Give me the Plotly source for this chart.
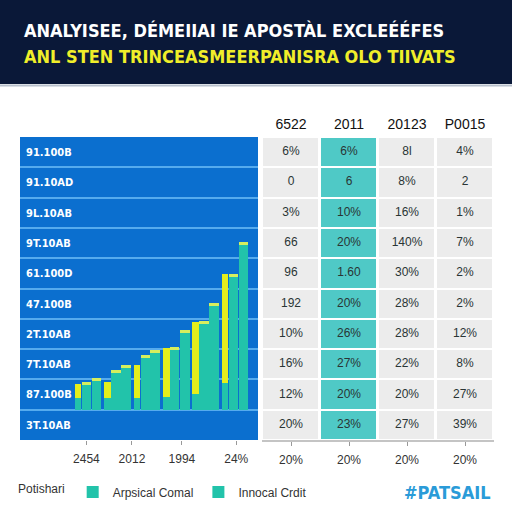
import plotly.graph_objects as go

# ---------------- data ----------------
title_text = "ANALYISEE, DÉMEIIAI IE APOSTÀL EXCLEÉÉFES"
subtitle_text = "ANL STEN TRINCEASMEERPANISRA OLO TIIVATS"

row_labels = ["91.100B", "91.10AD", "9L.10AB", "9T.10AB", "61.100D",
              "47.100B", "2T.10AB", "7T.10AB", "87.100B", "3T.10AB"]  # top -> bottom

groups = [0, 1, 2, 3, 4, 5]
yellow_vals = [2.6, 2.8, 4.5, 6.2, 8.8, 13.6]
yellow_base_teal = [1.2, 1.2, 1.2, 1.3, 1.6, 2.7]
teal_a_vals = [2.6, 3.8, 5.3, 6.1, 8.7, 13.4]
teal_b_vals = [3.0, 4.3, 5.8, 7.8, 10.5, 16.6]

bar_axis_labels = ["2454", "2012", "1994", "24%"]
table_axis_labels = ["20%", "20%", "20%", "20%"]

table_headers = ["6522", "2011", "20123", "P0015"]
table_rows = [
    ["6%", "6%", "8l", "4%"],
    ["0", "6", "8%", "2"],
    ["3%", "10%", "16%", "1%"],
    ["66", "20%", "140%", "7%"],
    ["96", "1.60", "30%", "2%"],
    ["192", "20%", "28%", "2%"],
    ["10%", "26%", "28%", "12%"],
    ["16%", "27%", "22%", "8%"],
    ["12%", "20%", "20%", "27%"],
    ["20%", "23%", "27%", "39%"],
]
highlight_col = 1

legend_title = "Potishari"
series_a_name = "Arpsical Comal"
series_b_name = "Innocal Crdit"
brand = "#PATSAIL"

# ---------------- style ----------------
W = H = 512
BLUE = "#0b6fcf"
GRID = "#55abee"
TEAL = "#22c3aa"
YELLOW = "#e4ee1c"
CAP = "#d6ee5e"
NAVY = "#0a1838"
CELL_GRAY = "#ececec"
CELL_TEAL = "#4fc9c6"
COND = "'DejaVu Sans Condensed', Roboto, sans-serif"
SANS = "'Liberation Sans', Arial, sans-serif"

def px_x(p):
    return p / W

def px_y(p):
    return 1 - p / H

left_dom = [px_x(20), px_x(258)]
table_dom = [px_x(262), px_x(494)]
row_dom = [px_y(440), px_y(137)]

y_lo, y_hi = -3.03, 27.27
n_rows = len(row_labels)
n_cols = len(table_headers)
row_h = (y_hi - y_lo) / n_rows
row_bounds = [y_lo + k * row_h for k in range(1, n_rows)]
row_centers = [y_hi - (i + 0.5) * row_h for i in range(n_rows)]

cap = 0.3

fig = go.Figure()

fig.add_trace(go.Bar(x=groups, y=yellow_vals, offset=-0.44, width=0.22,
                     marker=dict(color=YELLOW, line=dict(width=0)),
                     showlegend=False, hoverinfo="skip"))
fig.add_trace(go.Bar(x=groups, y=yellow_base_teal, offset=-0.44, width=0.22,
                     marker=dict(color=TEAL, line=dict(width=0)),
                     showlegend=False, hoverinfo="skip"))
fig.add_trace(go.Bar(x=groups, y=teal_a_vals, offset=-0.205, width=0.32,
                     name=series_a_name,
                     marker=dict(color=TEAL, line=dict(width=0))))
fig.add_trace(go.Bar(x=groups, y=teal_b_vals, offset=0.13, width=0.33,
                     name=series_b_name,
                     marker=dict(color=TEAL, line=dict(width=0))))
for vals, off, wd in [(teal_a_vals, -0.205, 0.32), (teal_b_vals, 0.13, 0.33)]:
    fig.add_trace(go.Bar(x=groups, y=[cap] * len(vals), base=[v - cap / 2 for v in vals],
                         offset=off, width=wd,
                         marker=dict(color=CAP, line=dict(width=0)),
                         showlegend=False, hoverinfo="skip"))

# table cells
z = [[1 if j == highlight_col else 0 for j in range(n_cols)] for _ in table_rows]
fig.add_trace(go.Heatmap(
    x=list(range(n_cols)), y=list(range(n_rows)), z=z,
    colorscale=[[0, CELL_GRAY], [1, CELL_TEAL]], zmin=0, zmax=1,
    showscale=False, xgap=3, ygap=2, hoverinfo="skip",
    xaxis="x2", yaxis="y2"))

# table texts
cell_x = [j for i in range(n_rows) for j in range(n_cols)]
cell_y = [i for i in range(n_rows) for j in range(n_cols)]
cell_t = [table_rows[i][j] for i in range(n_rows) for j in range(n_cols)]
fig.add_trace(go.Scatter(x=cell_x, y=cell_y, text=cell_t, mode="text",
                         textposition="middle center",
                         textfont=dict(family=SANS, size=12, color="#2a3535"),
                         showlegend=False, hoverinfo="skip",
                         xaxis="x3", yaxis="y2"))

fig.update_layout(
    width=W, height=H, autosize=False,
    margin=dict(l=0, r=0, t=0, b=0, autoexpand=False),
    paper_bgcolor="white", plot_bgcolor="rgba(0,0,0,0)",
    barmode="overlay", bargap=0,
    font=dict(family=SANS, color="#333"),
    xaxis=dict(domain=left_dom, range=[-2.31, 5.79], showgrid=False, zeroline=False,
               tickmode="array", tickvals=[-0.05, 1.5, 3.2, 5.05], ticktext=bar_axis_labels,
               ticks="outside", ticklen=4, tickcolor="#999", ticklabelstandoff=4,
               tickfont=dict(family=SANS, size=12, color="#333"), anchor="y",
               automargin=False),
    yaxis=dict(domain=row_dom, range=[y_lo, y_hi], showgrid=False, zeroline=False,
               tickmode="array", tickvals=row_centers, ticktext=row_labels,
               ticklabelposition="inside", ticks="", automargin=False,
               ticklabelstandoff=3,
               tickfont=dict(family=COND, size=11, color="white", weight="bold"),
               minor=dict(tickmode="array", tickvals=row_bounds,
                          showgrid=True, gridcolor=GRID, gridwidth=1.5, ticks=""),
               anchor="x"),
    xaxis2=dict(domain=table_dom, range=[-0.5, n_cols - 0.5], side="top", anchor="y2",
                tickmode="array", tickvals=list(range(n_cols)),
                ticktext=table_headers, ticks="", showgrid=False, zeroline=False,
                ticklabelstandoff=4, automargin=False,
                tickfont=dict(family=SANS, size=14, color="#111")),
    xaxis3=dict(overlaying="x2", range=[-0.5, n_cols - 0.5], side="bottom", anchor="y2",
                tickmode="array", tickvals=list(range(n_cols)),
                ticktext=table_axis_labels, ticks="outside", ticklen=4, tickcolor="#999",
                showline=True, linecolor="#c4c4c4", linewidth=1.5,
                ticklabelstandoff=4, showgrid=False, zeroline=False, automargin=False,
                tickfont=dict(family=SANS, size=12, color="#333")),
    yaxis2=dict(domain=row_dom, range=[n_rows - 0.5, -0.5], visible=False, anchor="x2"),
    legend=dict(orientation="h", x=px_x(16), y=px_y(492), xanchor="left", yanchor="middle",
                title=dict(text=legend_title, side="left", font=dict(size=12, color="#333")),
                font=dict(family=SANS, size=12, color="#333"), bgcolor="rgba(0,0,0,0)",
                itemwidth=30, traceorder="normal"),
    shapes=[
        dict(type="rect", xref="paper", yref="paper", x0=0, x1=1, y0=px_y(84), y1=1,
             fillcolor=NAVY, line=dict(width=0), layer="below"),
        dict(type="line", xref="paper", yref="paper", x0=0, x1=1, y0=px_y(85.5), y1=px_y(85.5),
             line=dict(color="#b8c0cc", width=2), layer="below"),
        dict(type="rect", xref="x domain", yref="y domain", x0=0, x1=1, y0=0, y1=1,
             fillcolor=BLUE, line=dict(width=0), layer="below"),
    ],
    annotations=[
        dict(text=title_text, xref="paper", yref="paper", x=px_x(22), y=px_y(30),
             xanchor="left", yanchor="middle", showarrow=False,
             font=dict(family=COND, size=18, color="white", weight="bold")),
        dict(text=subtitle_text, xref="paper", yref="paper", x=px_x(22), y=px_y(56),
             xanchor="left", yanchor="middle", showarrow=False,
             font=dict(family=COND, size=18, color="#f0ee2a", weight="bold")),
        dict(text=brand, xref="paper", yref="paper", x=px_x(493), y=px_y(492),
             xanchor="right", yanchor="middle", showarrow=False,
             font=dict(family=COND, size=18, color="#2a9bd8", weight="bold")),
    ],
)

fig.write_html("out.html", config={"displayModeBar": False},
               post_script="document.body.style.margin='0';document.body.style.overflow='hidden';")
